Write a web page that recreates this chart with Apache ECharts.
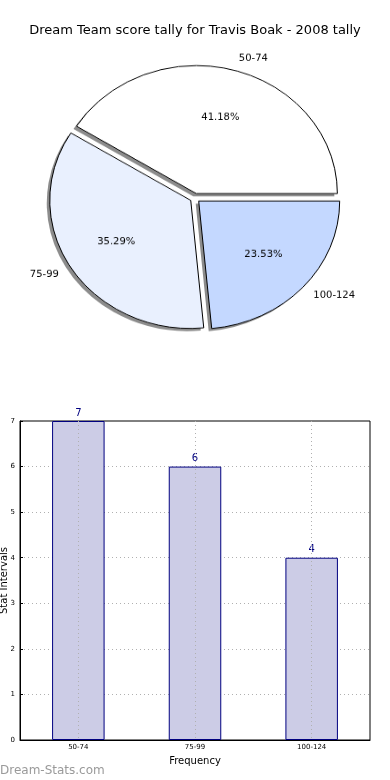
<!DOCTYPE html>
<html>
<head>
<meta charset="utf-8">
<script src="https://cdn.jsdelivr.net/npm/echarts@6/dist/echarts.min.js"></script>
<style>
html,body{margin:0;padding:0;background:#fff}
#wrap{position:relative;width:390px;height:780px;overflow:hidden}
#c{position:absolute;left:0;top:0;width:390px;height:780px;z-index:1}
#p{position:absolute;left:0;top:0;width:390px;height:420px;transform:scaleY(0.908);transform-origin:0 0;z-index:2}
</style>
</head>
<body>
<div id="wrap"><div id="c"></div><div id="p"></div></div>
<script>
const titleText = 'Dream Team score tally for Travis Boak - 2008 tally';
const categories = ['50-74', '75-99', '100-124'];
const counts = [7, 6, 4];
const sliceColors = ['#ffffff', '#e9f0fe', '#c4d8ff'];
const yTicks = [0, 1, 2, 3, 4, 5, 6, 7];
const xAxisName = 'Frequency';
const yAxisName = 'Stat Intervals';
const watermark = 'Dream-Stats.com';

const FONT = 'DejaVu Sans';
const total = counts.reduce((a, b) => a + b, 0);
const R = 141;
const CX = 195, CY = 218;
const OFF = 5;

function common() {
  return {
    type: 'pie', center: [CX, CY], startAngle: 0, clockwise: false,
    selectedMode: 'multiple', selectedOffset: OFF,
    emphasis: { disabled: true }, silent: true
  };
}

const pie = echarts.init(document.getElementById('p'));
pie.setOption({
  animation: false,
  series: [
    Object.assign(common(), {
      center: [CX - 3, CY + 3], radius: [0, R], z: 1,
      data: categories.map((c, i) => ({ name: c, value: counts[i], selected: true })),
      itemStyle: { color: 'rgba(0,0,0,0.45)', borderWidth: 0 },
      select: { itemStyle: { color: 'rgba(0,0,0,0.45)', borderWidth: 0 } },
      label: { show: false }, labelLine: { show: false }
    }),
    Object.assign(common(), {
      radius: [0, R], z: 2,
      data: categories.map((c, i) => ({ name: c, value: counts[i], selected: true,
        itemStyle: { color: sliceColors[i] } })),
      itemStyle: { borderColor: '#000', borderWidth: 1 },
      select: { itemStyle: { borderColor: '#000', borderWidth: 1 } },
      label: { show: true, position: 'outside', fontFamily: FONT, fontSize: 10, color: '#000',
        formatter: '{b}', distanceToLabelLine: 0 },
      labelLine: { show: false, length: R * 0.1, length2: 0 }
    }),
    Object.assign(common(), {
      radius: [R * 0.2, R], z: 3,
      data: categories.map((c, i) => ({ name: c, value: counts[i], selected: true })),
      itemStyle: { color: 'rgba(0,0,0,0)', borderWidth: 0 },
      select: { itemStyle: { color: 'rgba(0,0,0,0)', borderWidth: 0 } },
      label: { show: true, position: 'inside', fontFamily: FONT, fontSize: 10, color: '#000',
        formatter: p => (p.value / total * 100).toFixed(2) + '%' },
      labelLine: { show: false }
    })
  ]
});

const chart = echarts.init(document.getElementById('c'));
chart.setOption({
  animation: false,
  backgroundColor: '#ffffff',
  title: [
    { text: titleText, left: 'center', top: 24, padding: 0,
      textStyle: { fontFamily: FONT, fontSize: 13, fontWeight: 'normal', color: '#000' } },
    { text: watermark, left: 0, top: 765, padding: 0,
      textStyle: { fontFamily: FONT, fontSize: 12, fontWeight: 'normal', color: '#9a9a9a' } }
  ],
  grid: { left: 20, right: 20, top: 421, bottom: 40, show: true, borderColor: '#000', borderWidth: 1,
    containLabel: false, outerBoundsMode: 'none' },
  xAxis: [{
    type: 'category', data: categories,
    name: xAxisName, nameLocation: 'middle', nameGap: 16, nameMoveOverlap: false,
    nameTextStyle: { fontFamily: FONT, fontSize: 10, color: '#000' },
    axisLine: { lineStyle: { color: '#000' } },
    axisTick: { show: true, inside: true, alignWithLabel: true, length: 3, lineStyle: { color: '#000' } },
    axisLabel: { fontFamily: FONT, fontSize: 7, color: '#000', margin: 4 },
    splitLine: { show: false }
  }, {
    type: 'category', data: categories, position: 'bottom', z: 5,
    axisLine: { show: false }, axisTick: { show: false }, axisLabel: { show: false },
    splitLine: { show: true, alignWithLabel: true, lineStyle: { color: '#b0b0b0', type: [1, 3], width: 1 } }
  }],
  yAxis: {
    type: 'value', min: 0, max: yTicks[yTicks.length - 1], interval: 1,
    name: yAxisName, nameLocation: 'middle', nameGap: 11, nameMoveOverlap: false,
    nameTextStyle: { fontFamily: FONT, fontSize: 10, color: '#000' },
    axisLine: { show: true, lineStyle: { color: '#000' } },
    axisTick: { show: true, inside: true, length: 3, lineStyle: { color: '#000' } },
    axisLabel: { fontFamily: FONT, fontSize: 7, color: '#000', margin: 5 },
    splitLine: { show: true, showMinLine: false, showMaxLine: false,
      lineStyle: { color: '#b0b0b0', type: [1, 3], width: 1 } }
  },
  series: [
    {
      type: 'bar', data: counts, barWidth: '45%', xAxisIndex: 0,
      itemStyle: { color: '#ccccE6', borderColor: '#000080', borderWidth: 1 },
      label: { show: true, position: 'top', distance: 3, fontFamily: FONT, fontSize: 10, color: '#000080' },
      z: 2
    }
  ]
});
</script>
</body>
</html>
